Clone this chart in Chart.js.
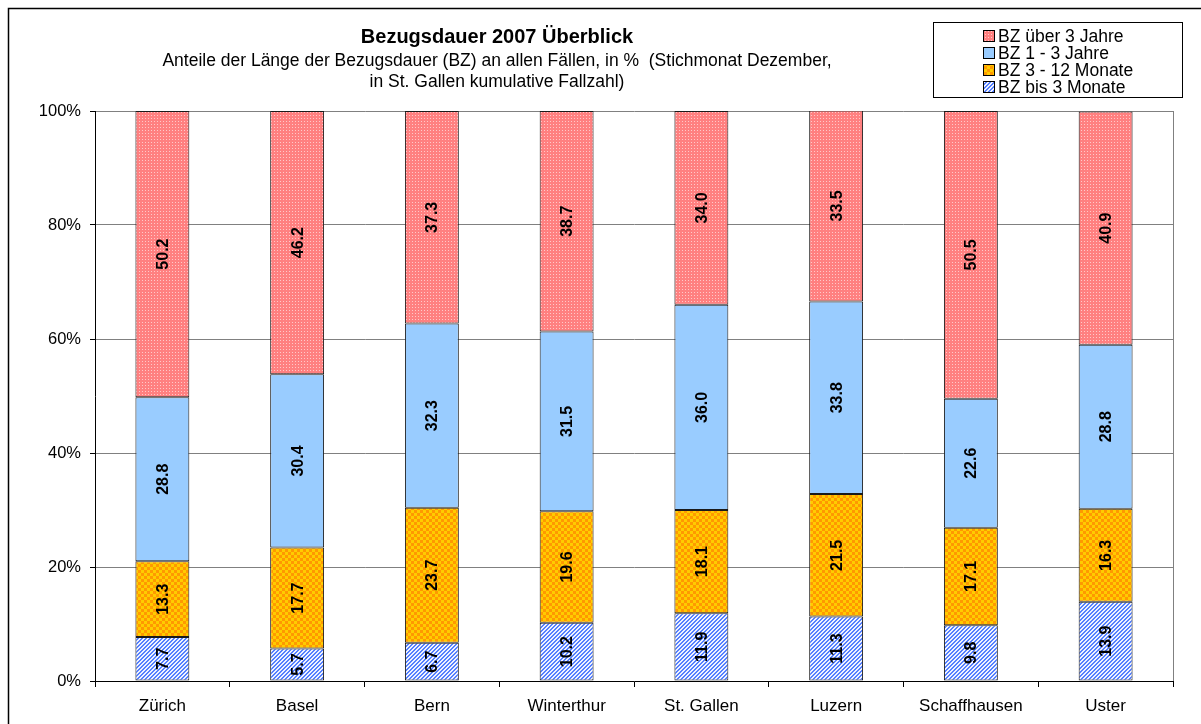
<!DOCTYPE html>
<html>
<head>
<meta charset="utf-8">
<script src="https://cdn.jsdelivr.net/npm/chart.js@4/dist/chart.umd.min.js"></script>
<style>
html,body{margin:0;padding:0;background:#fff;}
#wrap{width:1201px;height:724px;position:relative;}
</style>
</head>
<body>
<div id="wrap"><canvas id="c" width="1201" height="724"></canvas></div>
<script>
const categories = ["Zürich","Basel","Bern","Winterthur","St. Gallen","Luzern","Schaffhausen","Uster"];
const bzBis3Monate = [7.7, 5.7, 6.7, 10.2, 11.9, 11.3, 9.8, 13.9];
const bz3bis12Monate = [13.3, 17.7, 23.7, 19.6, 18.1, 21.5, 17.1, 16.3];
const bz1bis3Jahre = [28.8, 30.4, 32.3, 31.5, 36.0, 33.8, 22.6, 28.8];
const bzUeber3Jahre = [50.2, 46.2, 37.3, 38.7, 34.0, 33.5, 50.5, 40.9];
const seriesNames = ["BZ bis 3 Monate","BZ 3 - 12 Monate","BZ 1 - 3 Jahre","BZ über 3 Jahre"];
const yTicks = [0, 20, 40, 60, 80, 100];
const titleText = "Bezugsdauer 2007 Überblick";
const subtitleLines = ["Anteile der Länge der Bezugsdauer (BZ) an allen Fällen, in %  (Stichmonat Dezember,", "in St. Gallen kumulative Fallzahl)"];

const FONT = "'Liberation Sans', Arial, sans-serif";

function makePattern(size, drawFn) {
  const c = document.createElement('canvas');
  c.width = size; c.height = size;
  const x = c.getContext('2d');
  drawFn(x);
  return x.createPattern(c, 'repeat');
}
const ctxMain = document.getElementById('c').getContext('2d');
const redPattern = makePattern(3, x => {
  x.fillStyle = '#FF8080'; x.fillRect(0,0,3,3);
  x.fillStyle = '#FFC8C8'; x.fillRect(1,1,1,1);
});
const orangePattern = makePattern(6, x => {
  x.fillStyle = '#FFCC00'; x.fillRect(0,0,6,6);
  x.fillStyle = '#FF9900'; x.fillRect(0,0,3,3); x.fillRect(3,3,3,3);
});
const bluePattern = makePattern(4, x => {
  x.fillStyle = '#EEF2FF'; x.fillRect(0,0,4,4);
  x.fillStyle = '#5580FF';
  for (let i = 0; i < 4; i++) { x.fillRect(i, 3 - i, 1, 1); x.fillRect((i + 1) % 4, 3 - i, 1, 1); }
});
const lightBlue = '#99CCFF';

const fills = [bluePattern, orangePattern, lightBlue, redPattern];
const seriesData = [bzBis3Monate, bz3bis12Monate, bz1bis3Jahre, bzUeber3Jahre];

const datasets = seriesData.map((d, i) => ({
  label: seriesNames[i],
  data: d,
  backgroundColor: fills[i],
  borderColor: '#1a1a1a',
  borderWidth: 1,
  borderSkipped: false,
  barPercentage: 0.4,
  categoryPercentage: 1.0
}));

const framePlugin = {
  id: 'frame',
  beforeDraw(chart) {
    const c = chart.ctx;
    c.save();
    c.fillStyle = '#fff';
    c.fillRect(0,0,chart.width,chart.height);
    c.strokeStyle = '#000';
    c.lineWidth = 1.5;
    c.beginPath();
    c.moveTo(8.5, chart.height);
    c.lineTo(8.5, 8.5);
    c.lineTo(chart.width, 8.5);
    c.stroke();
    c.restore();
  },
  afterDraw(chart) {
    const c = chart.ctx;
    const a = chart.chartArea;
    c.save();
    c.strokeStyle = '#808080';
    c.lineWidth = 1;
    c.beginPath();
    c.moveTo(Math.round(a.right) + 0.5, a.top);
    c.lineTo(Math.round(a.right) + 0.5, a.bottom);
    c.stroke();
    // titles
    c.fillStyle = '#000';
    c.textAlign = 'center';
    c.textBaseline = 'middle';
    c.font = 'bold 20px ' + FONT;
    c.fillText(titleText, 497, 37);
    c.font = '17.5px ' + FONT;
    c.fillText(subtitleLines[0], 497, 61);
    c.fillText(subtitleLines[1], 497, 82);
    // legend
    c.strokeStyle = '#000';
    c.lineWidth = 1;
    c.fillStyle = '#fff';
    c.fillRect(933.5, 22.5, 249, 75);
    c.strokeRect(933.5, 22.5, 249, 75);
    const rows = [36, 53, 70, 87];
    for (let k = 0; k < 4; k++) {
      const i = 3 - k;
      const y = rows[k];
      c.fillStyle = fills[i];
      c.fillRect(983, y - 6, 12, 12);
      c.strokeStyle = '#000';
      c.strokeRect(983.5, y - 5.5, 11, 11);
      c.fillStyle = '#000';
      c.textAlign = 'left';
      c.font = '17.5px ' + FONT;
      c.fillText(seriesNames[i], 998, y + 1);
    }
    // value labels
    c.font = 'bold 16px ' + FONT;
    c.textAlign = 'center';
    c.textBaseline = 'middle';
    chart.data.datasets.forEach((ds, di) => {
      const meta = chart.getDatasetMeta(di);
      meta.data.forEach((el, j) => {
        const v = ds.data[j];
        const cy = (el.y + el.base) / 2;
        c.save();
        c.translate(el.x, cy);
        c.rotate(-Math.PI / 2);
        c.fillStyle = '#000';
        c.fillText(v.toFixed(1), 0, 1);
        c.restore();
      });
    });
    c.restore();
  }
};

new Chart(ctxMain, {
  type: 'bar',
  data: { labels: categories, datasets },
  options: {
    responsive: false,
    animation: false,
    devicePixelRatio: 1,
    layout: { padding: { left: 0, top: 111, right: 28, bottom: 0 } },
    plugins: { legend: { display: false }, title: { display: false }, tooltip: { enabled: false } },
    scales: {
      x: {
        stacked: true,
        grid: { offset: true, drawOnChartArea: false, tickLength: 6, color: '#000', tickColor: '#000' },
        border: { color: '#000', width: 1 },
        ticks: { color: '#000', font: { family: FONT, size: 17 }, padding: 9, maxRotation: 0 },
        afterFit(s) { s.height = 43; }
      },
      y: {
        stacked: true,
        min: 0, max: 100,
        afterBuildTicks(s) { s.ticks = yTicks.map(v => ({ value: v })); },
        grid: { color: '#808080', tickColor: '#000', tickLength: 5 },
        border: { color: '#000', width: 1 },
        ticks: { color: '#000', font: { family: FONT, size: 16.5 }, padding: 9, callback: v => v + '%' },
        afterFit(s) { s.width = 95; }
      }
    }
  },
  plugins: [framePlugin]
});
</script>
</body>
</html>
